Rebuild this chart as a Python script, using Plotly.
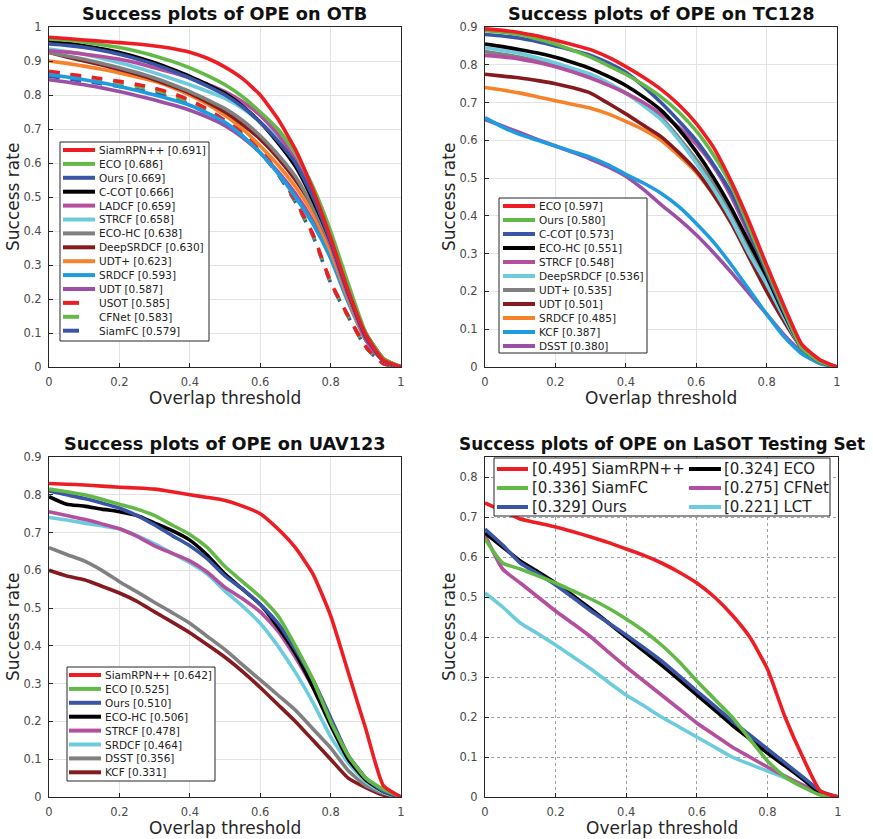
import plotly.graph_objects as go
from plotly.subplots import make_subplots

# ---------------- data ----------------
thr = [0, .05, .1, .15, .2, .25, .3, .35, .4, .45, .5, .55, .6, .65, .7, .75, .8, .85, .9, .95, 1.0]

otb_labels = ["SiamRPN++ [0.691]", "ECO [0.686]", "Ours [0.669]", "C-COT [0.666]", "LADCF [0.659]",
              "STRCF [0.658]", "ECO-HC [0.638]", "DeepSRDCF [0.630]", "UDT+ [0.623]", "SRDCF [0.593]",
              "UDT [0.587]", "USOT [0.585]", "CFNet [0.583]", "SiamFC [0.579]"]
otb_y = [
    [0.970, 0.966, 0.962, 0.958, 0.954, 0.950, 0.944, 0.937, 0.926, 0.908, 0.882, 0.848, 0.800, 0.730, 0.640, 0.520, 0.380, 0.225, 0.095, 0.020, 0],
    [0.965, 0.961, 0.955, 0.948, 0.940, 0.929, 0.915, 0.899, 0.880, 0.857, 0.830, 0.795, 0.750, 0.700, 0.630, 0.530, 0.400, 0.245, 0.100, 0.025, 0],
    [0.950, 0.946, 0.940, 0.931, 0.920, 0.906, 0.890, 0.871, 0.850, 0.826, 0.800, 0.765, 0.720, 0.665, 0.600, 0.500, 0.370, 0.220, 0.090, 0.020, 0],
    [0.960, 0.953, 0.945, 0.936, 0.925, 0.911, 0.895, 0.876, 0.855, 0.831, 0.805, 0.767, 0.720, 0.660, 0.590, 0.490, 0.370, 0.220, 0.090, 0.020, 0],
    [0.930, 0.926, 0.920, 0.913, 0.905, 0.894, 0.880, 0.866, 0.850, 0.832, 0.810, 0.780, 0.740, 0.685, 0.610, 0.500, 0.360, 0.210, 0.080, 0.018, 0],
    [0.935, 0.928, 0.920, 0.908, 0.895, 0.881, 0.865, 0.848, 0.830, 0.811, 0.790, 0.760, 0.720, 0.670, 0.600, 0.510, 0.380, 0.220, 0.090, 0.020, 0],
    [0.925, 0.915, 0.905, 0.893, 0.880, 0.866, 0.850, 0.831, 0.810, 0.786, 0.760, 0.725, 0.680, 0.625, 0.560, 0.470, 0.360, 0.210, 0.090, 0.020, 0],
    [0.925, 0.912, 0.900, 0.888, 0.875, 0.861, 0.845, 0.826, 0.805, 0.779, 0.750, 0.713, 0.670, 0.615, 0.550, 0.470, 0.360, 0.220, 0.100, 0.025, 0],
    [0.900, 0.893, 0.885, 0.876, 0.865, 0.853, 0.840, 0.822, 0.800, 0.773, 0.740, 0.700, 0.650, 0.595, 0.530, 0.450, 0.340, 0.200, 0.080, 0.018, 0],
    [0.860, 0.853, 0.845, 0.836, 0.825, 0.813, 0.800, 0.786, 0.770, 0.747, 0.720, 0.680, 0.630, 0.570, 0.500, 0.420, 0.320, 0.190, 0.080, 0.018, 0],
    [0.845, 0.838, 0.830, 0.821, 0.810, 0.798, 0.785, 0.771, 0.755, 0.735, 0.710, 0.675, 0.630, 0.575, 0.510, 0.430, 0.330, 0.200, 0.080, 0.018, 0],
    [0.870, 0.862, 0.855, 0.848, 0.840, 0.831, 0.820, 0.805, 0.785, 0.758, 0.725, 0.690, 0.640, 0.575, 0.490, 0.390, 0.250, 0.150, 0.060, 0.010, 0],
    [0.865, 0.857, 0.850, 0.843, 0.835, 0.826, 0.815, 0.800, 0.780, 0.753, 0.720, 0.685, 0.635, 0.572, 0.488, 0.388, 0.250, 0.150, 0.060, 0.010, 0],
    [0.855, 0.848, 0.840, 0.833, 0.825, 0.816, 0.805, 0.791, 0.772, 0.746, 0.714, 0.680, 0.631, 0.568, 0.485, 0.385, 0.248, 0.148, 0.058, 0.010, 0],
]
otb_colors = ["#ee1d24", "#62b946", "#3a55a5", "#000000", "#b34f9e", "#6ccbdd", "#808080", "#861b1f",
              "#f6822a", "#1f9be0", "#9b4fa6", "#ee1d24", "#62b946", "#3a55a5"]
otb_dash = ["solid"] * 11 + ["dash"] * 3

tc_labels = ["ECO [0.597]", "Ours [0.580]", "C-COT [0.573]", "ECO-HC [0.551]", "STRCF [0.548]",
             "DeepSRDCF [0.536]", "UDT+ [0.535]", "UDT [0.501]", "SRDCF [0.485]", "KCF [0.387]", "DSST [0.380]"]
tc_y = [
    [0.895, 0.891, 0.885, 0.876, 0.865, 0.853, 0.840, 0.820, 0.795, 0.767, 0.735, 0.695, 0.645, 0.580, 0.490, 0.385, 0.270, 0.160, 0.060, 0.020, 0],
    [0.890, 0.886, 0.880, 0.868, 0.855, 0.838, 0.820, 0.798, 0.775, 0.747, 0.715, 0.675, 0.625, 0.560, 0.480, 0.370, 0.260, 0.150, 0.050, 0.015, 0],
    [0.880, 0.876, 0.870, 0.861, 0.850, 0.838, 0.825, 0.805, 0.780, 0.743, 0.700, 0.652, 0.600, 0.535, 0.460, 0.360, 0.250, 0.145, 0.050, 0.015, 0],
    [0.855, 0.848, 0.840, 0.831, 0.820, 0.806, 0.790, 0.769, 0.745, 0.715, 0.680, 0.630, 0.570, 0.500, 0.420, 0.330, 0.240, 0.140, 0.050, 0.015, 0],
    [0.825, 0.821, 0.815, 0.806, 0.795, 0.781, 0.765, 0.746, 0.725, 0.700, 0.670, 0.635, 0.590, 0.530, 0.450, 0.350, 0.250, 0.145, 0.050, 0.015, 0],
    [0.845, 0.838, 0.830, 0.818, 0.805, 0.790, 0.775, 0.752, 0.725, 0.692, 0.655, 0.602, 0.540, 0.470, 0.390, 0.300, 0.220, 0.130, 0.050, 0.015, 0],
    [0.835, 0.828, 0.820, 0.810, 0.800, 0.786, 0.770, 0.749, 0.725, 0.695, 0.660, 0.608, 0.550, 0.485, 0.410, 0.320, 0.230, 0.135, 0.050, 0.015, 0],
    [0.775, 0.770, 0.765, 0.758, 0.750, 0.739, 0.725, 0.698, 0.670, 0.640, 0.610, 0.568, 0.520, 0.455, 0.380, 0.290, 0.200, 0.120, 0.050, 0.015, 0],
    [0.740, 0.733, 0.725, 0.715, 0.705, 0.695, 0.685, 0.670, 0.650, 0.628, 0.600, 0.560, 0.515, 0.455, 0.380, 0.295, 0.210, 0.125, 0.050, 0.015, 0],
    [0.660, 0.635, 0.615, 0.600, 0.585, 0.570, 0.555, 0.535, 0.510, 0.487, 0.460, 0.425, 0.380, 0.330, 0.270, 0.205, 0.140, 0.080, 0.035, 0.010, 0],
    [0.655, 0.638, 0.620, 0.602, 0.585, 0.568, 0.550, 0.530, 0.505, 0.470, 0.430, 0.392, 0.350, 0.302, 0.250, 0.195, 0.140, 0.085, 0.040, 0.012, 0],
]
tc_colors = ["#ee1d24", "#62b946", "#3a55a5", "#000000", "#b34f9e", "#6ccbdd", "#808080", "#861b1f",
             "#f6822a", "#1f9be0", "#9b4fa6"]

uav_labels = ["SiamRPN++ [0.642]", "ECO [0.525]", "Ours [0.510]", "ECO-HC [0.506]", "STRCF [0.478]",
              "SRDCF [0.464]", "DSST [0.356]", "KCF [0.331]"]
uav_y = [
    [0.830, 0.828, 0.826, 0.823, 0.820, 0.818, 0.815, 0.808, 0.800, 0.793, 0.785, 0.770, 0.750, 0.710, 0.660, 0.590, 0.480, 0.330, 0.180, 0.030, 0],
    [0.815, 0.808, 0.800, 0.788, 0.775, 0.762, 0.745, 0.720, 0.695, 0.660, 0.610, 0.570, 0.530, 0.480, 0.400, 0.310, 0.200, 0.110, 0.050, 0.020, 0],
    [0.810, 0.800, 0.790, 0.778, 0.765, 0.745, 0.720, 0.692, 0.665, 0.630, 0.585, 0.550, 0.510, 0.460, 0.390, 0.310, 0.210, 0.110, 0.050, 0.015, 0],
    [0.795, 0.775, 0.770, 0.762, 0.755, 0.745, 0.725, 0.705, 0.680, 0.640, 0.590, 0.550, 0.510, 0.450, 0.380, 0.290, 0.190, 0.100, 0.045, 0.015, 0],
    [0.755, 0.745, 0.735, 0.723, 0.710, 0.690, 0.665, 0.645, 0.625, 0.595, 0.555, 0.525, 0.490, 0.440, 0.370, 0.290, 0.200, 0.110, 0.050, 0.015, 0],
    [0.740, 0.733, 0.725, 0.718, 0.710, 0.692, 0.670, 0.645, 0.620, 0.590, 0.545, 0.505, 0.460, 0.400, 0.330, 0.250, 0.160, 0.090, 0.040, 0.012, 0],
    [0.660, 0.642, 0.625, 0.600, 0.570, 0.543, 0.515, 0.488, 0.460, 0.425, 0.390, 0.350, 0.310, 0.270, 0.230, 0.180, 0.130, 0.070, 0.030, 0.010, 0],
    [0.600, 0.585, 0.575, 0.558, 0.540, 0.518, 0.490, 0.463, 0.435, 0.403, 0.370, 0.332, 0.290, 0.245, 0.200, 0.150, 0.100, 0.050, 0.025, 0.005, 0],
]
uav_colors = ["#ee1d24", "#62b946", "#3a55a5", "#000000", "#b34f9e", "#6ccbdd", "#808080", "#861b1f"]

lasot_labels = ["[0.495] SiamRPN++", "[0.336] SiamFC", "[0.329] Ours", "[0.324] ECO", "[0.275] CFNet", "[0.221] LCT"]
lasot_y = [
    [0.735, 0.715, 0.695, 0.685, 0.675, 0.663, 0.650, 0.636, 0.620, 0.604, 0.585, 0.562, 0.535, 0.500, 0.455, 0.400, 0.320, 0.200, 0.100, 0.015, 0],
    [0.645, 0.585, 0.570, 0.553, 0.535, 0.515, 0.495, 0.472, 0.445, 0.415, 0.380, 0.338, 0.290, 0.245, 0.200, 0.145, 0.090, 0.050, 0.025, 0.005, 0],
    [0.670, 0.630, 0.585, 0.558, 0.530, 0.498, 0.465, 0.435, 0.405, 0.373, 0.340, 0.303, 0.265, 0.228, 0.190, 0.155, 0.120, 0.085, 0.050, 0.015, 0],
    [0.660, 0.625, 0.590, 0.563, 0.535, 0.503, 0.470, 0.435, 0.400, 0.365, 0.330, 0.293, 0.255, 0.218, 0.180, 0.145, 0.110, 0.078, 0.045, 0.010, 0],
    [0.655, 0.570, 0.535, 0.500, 0.465, 0.433, 0.400, 0.362, 0.325, 0.290, 0.255, 0.220, 0.185, 0.155, 0.125, 0.100, 0.075, 0.052, 0.030, 0.010, 0],
    [0.510, 0.475, 0.435, 0.408, 0.380, 0.350, 0.320, 0.287, 0.255, 0.228, 0.200, 0.175, 0.150, 0.125, 0.100, 0.082, 0.065, 0.048, 0.030, 0.010, 0],
]
lasot_colors = ["#ee1d24", "#62b946", "#3a55a5", "#000000", "#b34f9e", "#6ccbdd"]

titles = ["Success plots of OPE on OTB", "Success plots of OPE on TC128",
          "Success plots of OPE on UAV123", "Success plots of OPE on LaSOT Testing Set"]

# ---------------- figure ----------------
W, H = 873, 839
FONT = "DejaVu Sans"


def px(x):
    return x / W


def py(y):
    return 1 - y / H


# panel pixel boxes: left, right, top, bottom
panels = [(49, 401, 27, 367), (485, 837, 27, 367), (49, 401, 457, 797), (485, 838, 457, 797)]
title_sizes = [17.7, 17.7, 17.7, 16.9]

fig = make_subplots(rows=2, cols=2)

LW = 3.6


def add_series(ys, colors, row, col, dashes=None):
    n = len(ys)
    for i in reversed(range(n)):
        fig.add_trace(go.Scatter(
            x=thr, y=ys[i], mode="lines", showlegend=False, hoverinfo="skip",
            line=dict(color=colors[i], width=LW, dash=(dashes[i] if dashes else "solid"),
                      shape="spline", smoothing=0.5)),
            row=row, col=col)


add_series(otb_y, otb_colors, 1, 1, otb_dash)
add_series(tc_y, tc_colors, 1, 2)
add_series(uav_y, uav_colors, 2, 1)
add_series(lasot_y, lasot_colors, 2, 2)

axis_color = "#262626"
tick_font = dict(family=FONT, size=11.5, color="#4a4a4a")
yranges = [[0, 1], [0, 0.9], [0, 0.9], [0, 0.85]]
ydtick = 0.1

for k, (l, r, t, b) in enumerate(panels):
    sfx = "" if k == 0 else str(k + 1)
    dotted = (k == 3)
    common = dict(showline=True, linecolor=axis_color, linewidth=1, mirror=True,
                  ticks="inside", ticklen=4, tickcolor=axis_color, tickfont=tick_font,
                  showgrid=True, gridcolor=("#a0a0a0" if dotted else "#e3e3e3"),
                  griddash=("dot" if dotted else "solid"), gridwidth=1,
                  zeroline=False, ticklabelstandoff=4, automargin=False)
    fig.layout["xaxis" + sfx].update(domain=[px(l), px(r)], range=[0, 1], dtick=0.2,
                                      tickformat="~g", **common)
    fig.layout["yaxis" + sfx].update(domain=[py(b), py(t)], range=yranges[k], dtick=ydtick,
                                      tickformat="~g", **common)

annotations = []
shapes = []
# titles and axis labels
for k, (l, r, t, b) in enumerate(panels):
    ty = 14 if k < 2 else 444
    annotations.append(dict(text="<b>%s</b>" % titles[k], x=px((l + r) / 2), y=py(ty), xref="paper",
                            yref="paper", showarrow=False, xanchor="center", yanchor="middle",
                            font=dict(family=FONT, size=title_sizes[k], color="#111111")))
    annotations.append(dict(text="Overlap threshold", x=px((l + r) / 2), y=py(b + 31), xref="paper",
                            yref="paper", showarrow=False, xanchor="center", yanchor="middle",
                            font=dict(family=FONT, size=17, color=axis_color)))
    annotations.append(dict(text="Success rate", x=px(l - 36), y=py((t + b) / 2), xref="paper",
                            yref="paper", showarrow=False, xanchor="center", yanchor="middle",
                            textangle=-90, font=dict(family=FONT, size=17, color=axis_color)))


def legend(box, entries, colors, dashes, rows_y, sw_x, txt_x, size, dash_len=None):
    x0, y0, x1, y1 = box
    shapes.append(dict(type="rect", xref="paper", yref="paper", x0=px(x0), x1=px(x1),
                       y0=py(y1), y1=py(y0), fillcolor="white", line=dict(color=axis_color, width=1),
                       layer="above"))
    for i, lab in enumerate(entries):
        yy = rows_y[i]
        sx0, sx1 = sw_x[i]
        if dashes and dashes[i] != "solid":
            sx1 = sx0 + dash_len
        shapes.append(dict(type="line", xref="paper", yref="paper", x0=px(sx0), x1=px(sx1),
                           y0=py(yy), y1=py(yy), line=dict(color=colors[i], width=4), layer="above"))
        annotations.append(dict(text=lab, x=px(txt_x[i]), y=py(yy), xref="paper", yref="paper",
                                showarrow=False, xanchor="left", yanchor="middle",
                                font=dict(family=FONT, size=size, color="#222222")))


n = len(otb_labels)
legend((60, 142, 209, 341), otb_labels, otb_colors, otb_dash,
       [150 + 13.9 * i for i in range(n)], [(63, 95)] * n, [97] * n, 10.5, dash_len=16)
n = len(tc_labels)
legend((499, 198, 647, 353), tc_labels, tc_colors, None,
       [206 + 14 * i for i in range(n)], [(503, 535)] * n, [537] * n, 10.5)
n = len(uav_labels)
legend((67, 667, 215, 781), uav_labels, uav_colors, None,
       [675 + 13.9 * i for i in range(n)], [(69, 101)] * n, [103] * n, 10.5)
legend((494, 458, 830, 516), lasot_labels, lasot_colors, None,
       [469, 488, 507, 469, 488, 507], [(497, 528)] * 3 + [(689, 721)] * 3,
       [530] * 3 + [722] * 3, 15)

fig.update_layout(width=W, height=H, margin=dict(l=0, r=0, t=0, b=0, autoexpand=False),
                  paper_bgcolor="white", plot_bgcolor="white", showlegend=False,
                  annotations=annotations, shapes=shapes, font=dict(family=FONT))

fig.write_html("out.html", config={"displayModeBar": False},
               post_script="document.body.style.margin='0';document.body.style.padding='0';"
                           "document.body.style.overflow='hidden';")
